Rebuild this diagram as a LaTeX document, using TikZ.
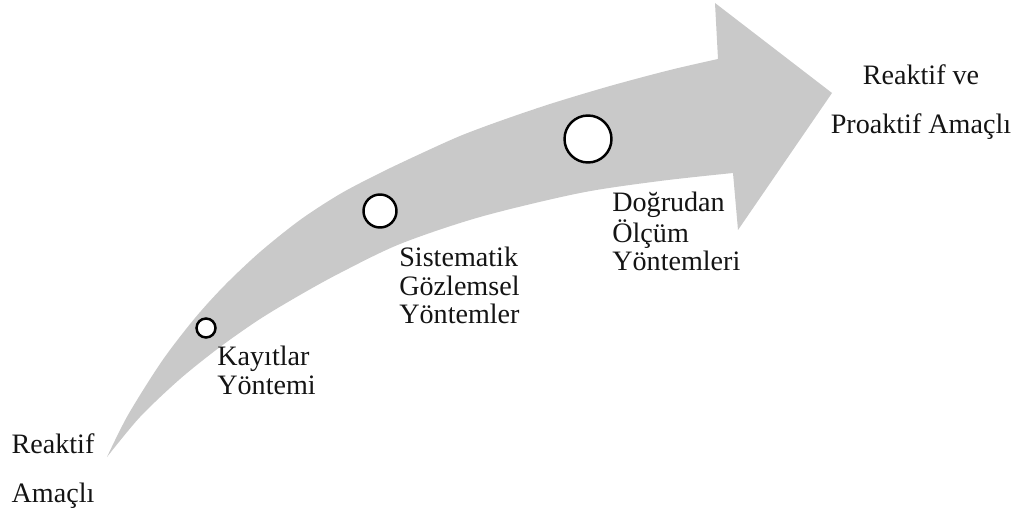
\documentclass[tikz,border=0pt]{standalone}
\usepackage{fontspec}
\setmainfont{Liberation Serif}
\definecolor{bandgrey}{RGB}{201,201,201}
\definecolor{inktext}{RGB}{20,20,20}
\tikzset{
  stage/.style={circle, draw=black, fill=white, line width=1.4pt, inner sep=0pt},
  steplabel/.style={anchor=north west, align=left, inner sep=0pt, text=inktext,
    font=\fontsize{16}{16.2}\selectfont},
  endlabel/.style={anchor=north, align=center, inner sep=0pt, text=inktext,
    font=\fontsize{16}{27.9}\selectfont},
}
\begin{document}
\begin{tikzpicture}[x=0.02cm,y=-0.02cm]
\useasboundingbox (0,0) rectangle (1018,513);
% curved progress arrow: upper edge, head, lower edge back to the tail
\fill[bandgrey]
  plot[smooth,tension=0.5] coordinates {(107,457) (128,415) (162,361) (195,318) (225,285)
    (260,252) (300,220) (340,194) (380,173) (420,154) (460,136) (500,121) (550,104)
    (610,86) (670,70) (718,59)}
  -- (715,3) -- (832,93) -- (738,230) -- (733,173)
  -- plot[smooth,tension=0.5] coordinates {(733,173) (660,181) (580,193) (480,217)
    (400,244) (340,273) (300,295) (260,319) (220,347) (180,379) (140,417) (107,457)}
  -- cycle;
% stages along the arrow
\node[stage, minimum size=0.38cm] (c1) at (206,328) {};
\node[stage, minimum size=0.66cm] (c2) at (380,211) {};
\node[stage, minimum size=0.94cm] (c3) at (588,139) {};
% stage labels
\node[steplabel] (kayit) at (217,346) {Kayıtlar\\Yöntemi};
\node[steplabel] (gozlem) at (399,247) {Sistematik\\Gözlemsel\\Yöntemler};
\node[steplabel] (olcum) at (612,192) {Doğrudan\\Ölçüm\\Yöntemleri};
% end points
\node[endlabel] (start) at (53,433) {Reaktif\\Amaçlı};
\node[endlabel] (goal) at (921,64) {Reaktif ve\\Proaktif Amaçlı};
\end{tikzpicture}
\end{document}
